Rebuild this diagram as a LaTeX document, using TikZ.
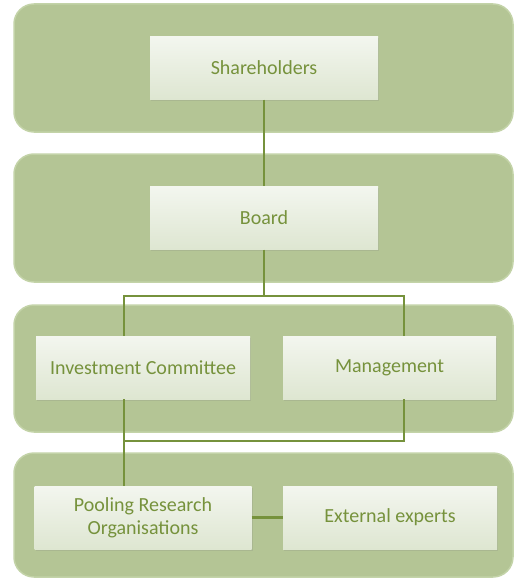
\documentclass[tikz,border=0pt]{standalone}
\usepackage{fontspec}
\setmainfont{Carlito}
\usepackage{xcolor}
\usepackage{tikz}
\usetikzlibrary{shadows}

\definecolor{bandfill}{RGB}{180,197,149}
\definecolor{bandline}{RGB}{195,211,168}
\definecolor{linkgreen}{RGB}{118,146,60}
\definecolor{boxtop}{RGB}{243,246,239}
\definecolor{boxbottom}{RGB}{222,230,209}

\tikzset{
  band/.style={fill=bandfill, draw=bandline, line width=1.5pt, rounded corners=20pt},
  unit/.style={top color=boxtop, bottom color=boxbottom, draw=none,
    text=linkgreen, align=center, font=\fontsize{20}{23}\selectfont,
    minimum height=63pt, inner sep=2pt,
    drop shadow={opacity=0.2, shadow xshift=1pt, shadow yshift=-1.5pt}},
  link/.style={draw=linkgreen, line width=2.5pt}
}

\begin{document}
\begin{tikzpicture}[x=1pt, y=-1pt]
\useasboundingbox (0,0) rectangle (514,578);

\draw[band] (14,4) rectangle (513,132);
\draw[band] (14,154) rectangle (513,282);
\draw[band] (14,305) rectangle (513,432);
\draw[band] (14,453) rectangle (513,577);

\node[unit, minimum width=228pt] at (264, 68) (sh) {Shareholders};
\node[unit, minimum width=228pt] at (264, 218) (bd) {Board};
\node[unit, minimum width=214pt] at (143, 367.5) (ic) {Investment Committee};
\node[unit, minimum width=213pt] at (389.5, 367.5) (mg) {Management};
\node[unit, minimum width=217pt] at (143, 517.5) (pro) {Pooling Research\\Organisations};
\node[unit, minimum width=214pt] at (390, 517.5) (ext) {External experts};

\coordinate (split) at (264, 296);
\coordinate (join) at (124, 441);

\draw[link] (sh.south) -- (bd.north);
\draw[link] (bd.south) -- (split);
\draw[link] (split) -| ([xshift=-19pt]ic.north);
\draw[link] (split) -| ([xshift=14.5pt]mg.north);
\draw[link] ([xshift=-19pt]ic.south) -- ([xshift=-19pt]pro.north);
\draw[link] ([xshift=14.5pt]mg.south) |- (join);
\draw[link] (pro.east) -- (ext.west);
\end{tikzpicture}
\end{document}
